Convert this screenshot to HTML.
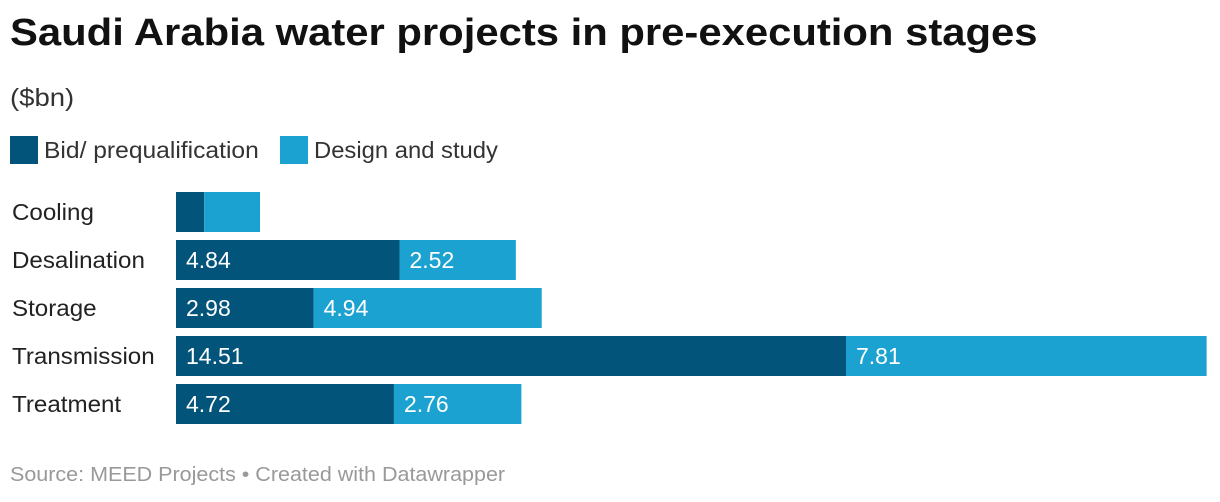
<!DOCTYPE html>
<html><head><meta charset="utf-8"><style>
body{margin:0;width:1220px;height:502px;background:#fff;font-family:"Liberation Sans",sans-serif;overflow:hidden;position:relative}
.t{position:absolute;white-space:nowrap;transform-origin:left center}
</style></head><body>
<div class="t" style="left:10px;top:12px;font-size:38px;font-weight:bold;color:#111;transform:scaleX(1.10)">Saudi Arabia water projects in pre-execution stages</div>
<div class="t" style="left:10px;top:84px;font-size:25px;color:#333;transform:scaleX(1.1)">($bn)</div>
<div class="t" style="left:10px;top:136px;font-size:23px;color:#333"><span style="display:inline-block;width:28px;height:28px;background:#03547a;vertical-align:-6px;margin-right:6px"></span><span style="display:inline-block;transform:scaleX(1.07);transform-origin:left center">Bid/ prequalification</span></div>
<div class="t" style="left:280px;top:136px;font-size:23px;color:#333"><span style="display:inline-block;width:28px;height:28px;background:#1ba2d0;vertical-align:-6px;margin-right:6px"></span><span style="display:inline-block;transform:scaleX(1.035);transform-origin:left center">Design and study</span></div>
<svg id="chart" width="1220" height="502" style="position:absolute;left:0;top:0"></svg>
<div class="t" style="left:10px;top:464px;font-size:20px;color:#999;transform:scaleX(1.075)">Source: MEED Projects • Created with Datawrapper</div>
<script>
const categories=["Cooling","Desalination","Storage","Transmission","Treatment"];
const bidValues=[0.61,4.84,2.98,14.51,4.72];
const designValues=[1.21,2.52,4.94,7.81,2.76];
const showLabels=[false,true,true,true,true];
const svg=document.getElementById('chart');
const NS='http://www.w3.org/2000/svg';
const x0=176,scale=670/14.51;
const xs=v=>v*scale;
const yb=i=>192+i*48;
function el(tag,attrs){const e=document.createElementNS(NS,tag);for(const k in attrs)e.setAttribute(k,attrs[k]);svg.appendChild(e);return e;}
categories.forEach((c,i)=>{
 const y=yb(i);
 const lab=el('text',{x:12,y:y+28,'font-size':23,fill:'#222',transform:'translate(12 0) scale(1.05 1) translate(-12 0)'});lab.textContent=c;
 
 
 const w1=xs(bidValues[i]),w2=xs(designValues[i]);
 const r1=el('rect',{x:x0,y:y,width:w1,height:40,fill:'#03547a'});
 
 
 const r2=el('rect',{x:x0+w1,y:y,width:w2,height:40,fill:'#1ba2d0'});
 
 
 if(showLabels[i]){
  const t1=el('text',{x:x0+10,y:y+28,'font-size':23,fill:'#fff'});t1.textContent=bidValues[i].toFixed(2);
  
  
  const t2=el('text',{x:x0+w1+10,y:y+28,'font-size':23,fill:'#fff'});t2.textContent=designValues[i].toFixed(2);
  
  
 }
});
</script>
</body></html>
